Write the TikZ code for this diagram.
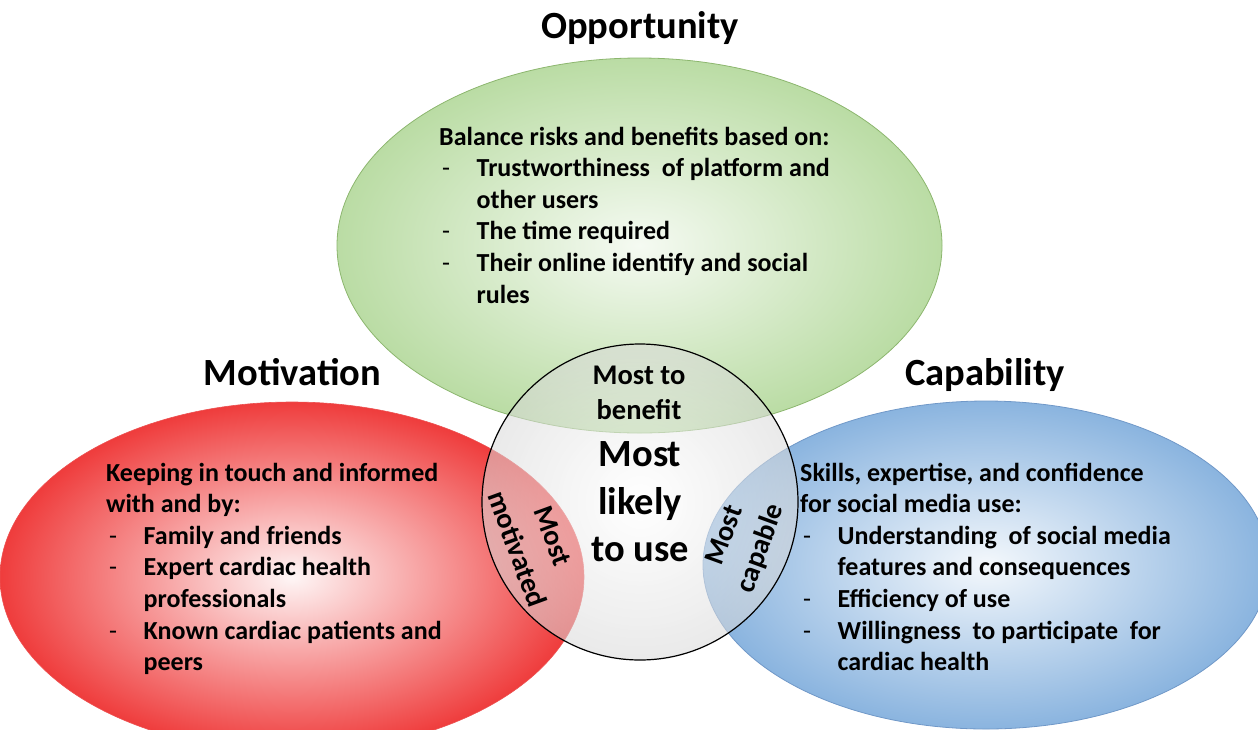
\documentclass[tikz,border=0pt]{standalone}
\usepackage{fontspec}
\setmainfont{Carlito}
\usetikzlibrary{shapes.geometric}
\definecolor{gOut}{RGB}{186,220,164}
\definecolor{gIn}{RGB}{245,250,242}
\definecolor{gLine}{RGB}{140,182,110}
\definecolor{rOut}{RGB}{239,60,60}
\definecolor{rIn}{RGB}{254,246,246}
\definecolor{rLine}{RGB}{236,80,80}
\definecolor{bOut}{RGB}{138,180,223}
\definecolor{bIn}{RGB}{244,248,252}
\definecolor{bLine}{RGB}{112,152,200}
\definecolor{cOut}{RGB}{216,216,216}
\newcommand\di{\makebox[37.5pt][l]{\hspace*{3pt}\mdseries-}}
\newcommand\ind{\hspace*{37.5pt}}
\tikzset{
  blob/.style={ellipse, inner sep=0pt, outer sep=0pt},
  ttl/.style={font=\fontsize{38.5}{47}\selectfont\bfseries, inner sep=0pt, anchor=base},
  body/.style={font=\fontsize{26}{31.6}\selectfont\bfseries, inner sep=0pt, anchor=base west},
  lab/.style={font=\fontsize{28.5}{35}\selectfont\bfseries, inner sep=0pt},
  rlab/.style={font=\fontsize{28.5}{38}\selectfont\bfseries, inner sep=0pt},
  big/.style={font=\fontsize{38.5}{47.5}\selectfont\bfseries, inner sep=0pt, anchor=base},
}
\begin{document}
\begin{tikzpicture}[x=1pt,y=-1pt]
\useasboundingbox (0,0) rectangle (1258,729);
\clip (0,0) rectangle (1258,729);
% ellipses
\node[blob, minimum width=605pt, minimum height=375pt, draw=gLine, line width=0.8pt,
  inner color=gIn, outer color=gOut] (opp) at (639.5,245.5) {};
\node[blob, minimum width=584pt, minimum height=350pt, draw=rLine, line width=0.6pt,
  inner color=rIn, outer color=rOut] (mot) at (292,577) {};
\node[blob, minimum width=566pt, minimum height=328pt, draw=bLine, line width=0.8pt,
  inner color=bIn, outer color=bOut] (cap) at (986,565) {};
% centre circle
\node[circle, inner sep=0pt, outer sep=0pt, minimum size=316pt, draw=black, line width=1.2pt,
  inner color=white, outer color=cOut, fill opacity=0.55, draw opacity=1] (use) at (640,502) {};
% titles
\node[ttl] (tO) at (640,38) {Opportunity};
\node[ttl] (tM) at (292.5,385) {Motivation};
\node[ttl] (tC) at (985,385) {Capability};
% body texts
\node[body] (oppText) at (439,145) {\begin{tabular}[t]{@{}l@{}}
Balance risks and benefits based on:\\
\di Trustworthiness\ \ of platform and\\
\ind other users\\
\di The time required\\
\di Their online identify and social\\
\ind rules
\end{tabular}};
\node[body] (motText) at (106,481) {\begin{tabular}[t]{@{}l@{}}
Keeping in touch and informed\\
with and by:\\
\di Family and friends\\
\di Expert cardiac health\\
\ind professionals\\
\di Known cardiac patients and\\
\ind peers
\end{tabular}};
\node[body] (capText) at (800,481) {\begin{tabular}[t]{@{}l@{}}
Skills, expertise, and confidence\\
for social media use:\\
\di Understanding\ \ of social media\\
\ind features and consequences\\
\di Efficiency of use\\
\di Willingness\ \ to participate\ \ for\\
\ind cardiac health
\end{tabular}};
% overlap labels
\node[lab, anchor=base] (benefit) at (639,384) {\begin{tabular}[t]{@{}c@{}}Most to\\benefit\end{tabular}};
\node[big] (likely) at (640,466.5) {\begin{tabular}[t]{@{}c@{}}Most\\likely\\to use\end{tabular}};
\node[rlab, rotate=-70] (motivated) at (533.5,543) {\begin{tabular}{@{}c@{}}Most\\motivated\end{tabular}};
\node[rlab, rotate=70] (capable) at (743,542) {\begin{tabular}{@{}c@{}}Most\\capable\end{tabular}};
\end{tikzpicture}
\end{document}
